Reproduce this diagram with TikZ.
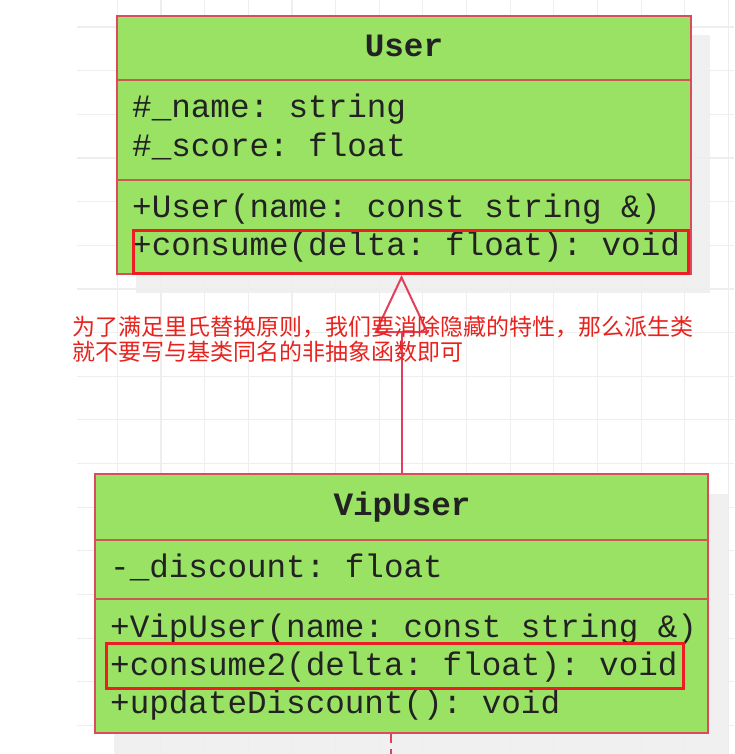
\documentclass[tikz,border=0pt]{standalone}
\usepackage{fontspec}
\setmonofont{Liberation Mono}
\newfontfamily\cjk{Noto Sans CJK SC}
\usetikzlibrary{arrows.meta}
\definecolor{boxgreen}{HTML}{9AE264}
\definecolor{boxborder}{HTML}{DC4A5E}
\definecolor{divcol}{HTML}{C85A52}
\definecolor{hlred}{HTML}{EE1C25}
\definecolor{gridc}{HTML}{EEEEEE}
\definecolor{shadowc}{HTML}{F0F0F0}
\definecolor{textc}{HTML}{222222}
\definecolor{notered}{HTML}{E8231E}
\definecolor{linkc}{HTML}{E0405A}
\tikzset{
  gridline/.style={draw=gridc, line width=1.2pt},
  umlbox/.style={draw=boxborder, fill=boxgreen, line width=2pt, inner sep=0pt},
  divider/.style={draw=divcol, line width=2pt},
  shadowbox/.style={fill=shadowc},
  hlbox/.style={draw=hlred, line width=3pt},
  mono/.style={font=\ttfamily\fontsize{32.6}{39}\selectfont, text=textc, inner sep=0pt},
  monobold/.style={font=\ttfamily\bfseries\fontsize{32.6}{39}\selectfont, text=textc, inner sep=0pt},
  cjktext/.style={font=\cjk\fontsize{23}{25}\selectfont, text=notered, inner sep=0pt},
  gen/.style={draw=linkc, line width=2pt, -{Triangle[open, length=58pt, width=54pt]}},
  dep/.style={draw=linkc, line width=2pt, dash pattern=on 9pt off 6pt},
}
\begin{document}
\begin{tikzpicture}[x=1pt,y=-1pt]
\useasboundingbox (0,0) rectangle (734,754);
\fill[white] (0,0) rectangle (734,754);
% shadows
\fill[shadowbox] (136,35) rectangle (710,293);
\fill[shadowbox] (114,494) rectangle (729,754);
% grid
\foreach \k in {0,...,14} {
  \draw[gridline] ({117.3+43.65*\k},0) -- ({117.3+43.65*\k},754);
}
\foreach \k in {0,...,16} {
  \draw[gridline] (77,{27+43.65*\k}) -- (734,{27+43.65*\k});
}
% boxes
\node[umlbox, minimum width=574pt, minimum height=258pt] (user) at (404,145) {};
\node[umlbox, minimum width=613pt, minimum height=259pt] (vip) at (401.5,603.5) {};
% dividers
\draw[divider] (117,80) -- (691,80);
\draw[divider] (117,180) -- (691,180);
\draw[divider] (95,540) -- (708,540);
\draw[divider] (95,599) -- (708,599);
% User texts
\node[monobold, anchor=base] (usertitle) at (404,57) {User};
\node[mono, anchor=base west] (uattr1) at (132,118) {\#\_name: string};
\node[mono, anchor=base west] (uattr2) at (132,157) {\#\_score: float};
\node[mono, anchor=base west] (uop1) at (132,217) {+User(name: const string \&)};
\node[mono, anchor=base west] (uop2) at (132,255) {+consume(delta: float): void};
% VipUser texts
\node[monobold, anchor=base] (viptitle) at (402,515) {VipUser};
\node[mono, anchor=base west] (vattr1) at (110,577) {-\_discount: float};
\node[mono, anchor=base west] (vop1) at (110,637) {+VipUser(name: const string \&)};
\node[mono, anchor=base west] (vop2) at (110,675) {+consume2(delta: float): void};
\node[mono, anchor=base west] (vop3) at (110,713) {+updateDiscount(): void};
% highlights
\draw[hlbox] (133,230) rectangle (688,273);
\draw[hlbox] (106,643) rectangle (683,688);
% generalization
\draw[gen] (vip.north) -- (vip.north |- user.south);
% dashed line at bottom
\coordinate (dashend) at (391,754);
\draw[dep] (vip.south -| dashend) -- (dashend);
% note
\node[cjktext, anchor=base west] (note1) at (72,335) {为了满足里氏替换原则，我们要消除隐藏的特性，那么派生类};
\node[cjktext, anchor=base west] (note2) at (72,360) {就不要写与基类同名的非抽象函数即可};
\end{tikzpicture}
\end{document}
